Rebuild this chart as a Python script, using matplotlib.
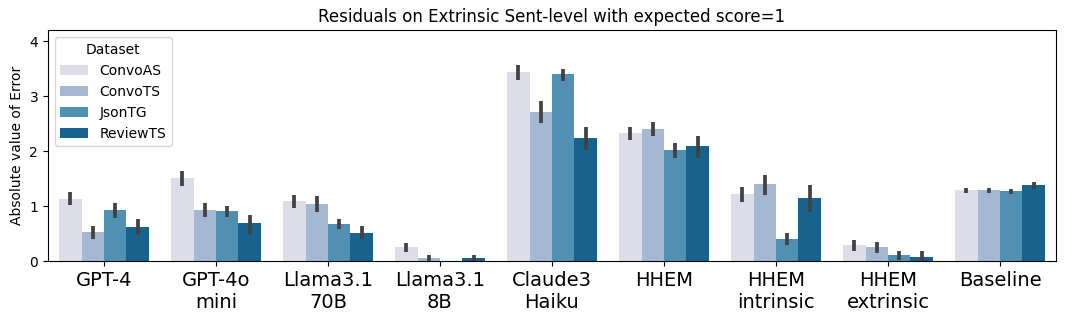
import matplotlib
matplotlib.use("Agg")
import matplotlib.pyplot as plt
import seaborn as sns
import numpy as np
import pandas as pd

# data
models = ["GPT-4", "GPT-4o\nmini", "Llama3.1\n70B", "Llama3.1\n8B", "Claude3\nHaiku",
          "HHEM", "HHEM\nintrinsic", "HHEM\nextrinsic", "Baseline"]
datasets = ["ConvoAS", "ConvoTS", "JsonTG", "ReviewTS"]

convoas = [1.13, 1.52, 1.10, 0.26, 3.44, 2.33, 1.22, 0.30, 1.30]
convots = [0.53, 0.93, 1.04, 0.06, 2.72, 2.41, 1.41, 0.26, 1.30]
jsontg = [0.93, 0.92, 0.68, 0.00, 3.41, 2.02, 0.41, 0.12, 1.28]
reviewts = [0.62, 0.70, 0.52, 0.06, 2.24, 2.10, 1.15, 0.08, 1.39]

# confidence interval bounds (low, high)
convoas_lo = [1.02, 1.37, 0.96, 0.17, 3.30, 2.20, 1.08, 0.19, 1.24]
convoas_hi = [1.26, 1.64, 1.20, 0.33, 3.56, 2.44, 1.35, 0.39, 1.33]
convots_lo = [0.41, 0.80, 0.90, 0.00, 2.51, 2.27, 1.21, 0.15, 1.24]
convots_hi = [0.64, 1.06, 1.19, 0.12, 2.92, 2.54, 1.57, 0.35, 1.33]
jsontg_lo = [0.79, 0.80, 0.58, 0.00, 3.28, 1.88, 0.30, 0.02, 1.22]
jsontg_hi = [1.06, 1.01, 0.77, 0.00, 3.50, 2.15, 0.52, 0.19, 1.31]
reviewts_lo = [0.47, 0.48, 0.41, 0.00, 2.03, 1.88, 0.90, 0.00, 1.31]
reviewts_hi = [0.77, 0.84, 0.64, 0.12, 2.44, 2.27, 1.38, 0.19, 1.44]

means = [convoas, convots, jsontg, reviewts]
lows = [convoas_lo, convots_lo, jsontg_lo, reviewts_lo]
highs = [convoas_hi, convots_hi, jsontg_hi, reviewts_hi]

rows = []
for d, vals in zip(datasets, means):
    for m, v in zip(models, vals):
        rows.append({"Model": m, "Dataset": d, "Error": v})
df = pd.DataFrame(rows)

fig, ax = plt.subplots(figsize=(10.65, 3.22), dpi=100)
sns.barplot(data=df, x="Model", y="Error", hue="Dataset", palette="PuBu",
            errorbar=None, ax=ax)

## error bars on top of each bar
n = len(datasets)
width = 0.8 / n
for j in range(n):
    for i in range(len(models)):
        xc = i - 0.4 + width * (j + 0.5)
        if highs[j][i] > lows[j][i]:
            ax.plot([xc, xc], [lows[j][i], highs[j][i]], color="#424242",
                    linewidth=2.7, solid_capstyle="butt", zorder=3)

ax.set_title("Residuals on Extrinsic Sent-level with expected score=1", fontsize=12)
ax.set_xlabel("")
ax.set_ylabel("Absolute value of Error", fontsize=10)
ax.set_xlim(-0.5, len(models) - 0.5)
ax.set_ylim(0, 4.2)
ax.set_yticks([0, 1, 2, 3, 4])
ax.tick_params(axis="x", labelsize=14)
ax.legend(title="Dataset", loc="upper left", fontsize=10)
plt.subplots_adjust(left=0.045, right=0.9915, top=0.906, bottom=0.1885)
plt.savefig("out.png", dpi=100)
